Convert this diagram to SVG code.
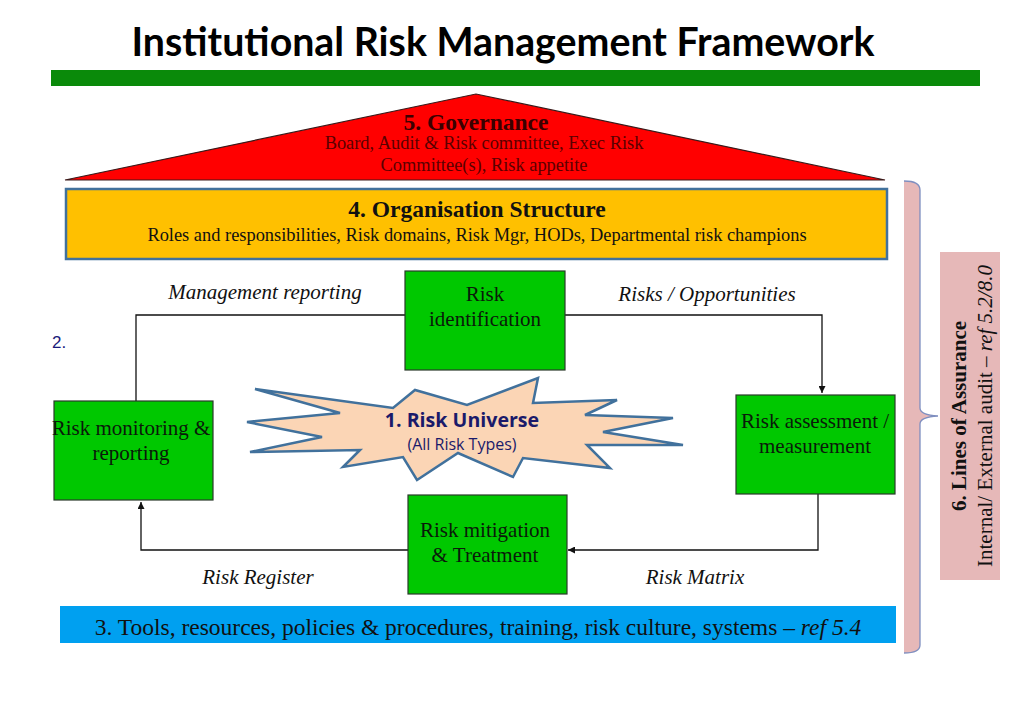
<svg xmlns="http://www.w3.org/2000/svg" width="1024" height="708" viewBox="0 0 1024 708">
<style>
.serif{font-family:"Liberation Serif","Times New Roman",serif}
.box{fill:#00c800;stroke:#2a3a2a;stroke-width:1.2}
.boxt{font-family:"Liberation Serif",serif;font-size:21px;fill:#0a1a0a;text-anchor:middle}
.lbl{font-family:"Liberation Serif",serif;font-size:21px;font-style:italic;fill:#111;text-anchor:middle}
.conn{fill:none;stroke:#111;stroke-width:1.3}
</style>
<defs>
<marker id="arr" viewBox="0 0 10 10" refX="10" refY="5" markerWidth="7" markerHeight="7" orient="auto" markerUnits="userSpaceOnUse"><path d="M0,0 L10,5 L0,10 z" fill="#111"/></marker>
</defs>
<rect width="1024" height="708" fill="#fff"/>
<g id="title">
<text x="503" y="56" font-family="Lato,'Open Sans',sans-serif" font-weight="bold" font-size="39.3" text-anchor="middle" fill="#000">Institutional Risk Management Framework</text>
<rect x="51" y="70" width="929" height="16" fill="#0a8a0a"/>
</g>
<g id="governance">
<polygon points="65,180 476,94 885,180" fill="#ff0000" stroke="#3a1a1a" stroke-width="1.2"/>
<text x="476" y="130" class="serif" font-size="23.5" font-weight="bold" text-anchor="middle" fill="#3a0000">5. Governance</text>
<text x="484" y="149" class="serif" font-size="18.4" text-anchor="middle" fill="#5a0000">Board, Audit &amp; Risk committee, Exec Risk</text>
<text x="484" y="171" class="serif" font-size="18.4" text-anchor="middle" fill="#5a0000">Committee(s), Risk appetite</text>
</g>
<g id="organisation">
<rect x="66" y="189" width="821" height="70" fill="#ffc000" stroke="#41719c" stroke-width="2.5"/>
<text x="477" y="217" class="serif" font-size="23.5" font-weight="bold" text-anchor="middle" fill="#111">4. Organisation Structure</text>
<text x="477" y="241" class="serif" font-size="18.4" text-anchor="middle" fill="#111">Roles and responsibilities, Risk domains, Risk Mgr, HODs, Departmental risk champions</text>
</g>
<g id="connectors">
<polyline class="conn" points="136,401 136,315 405,315"/>
<polyline class="conn" points="565,315 822,315 822,393" marker-end="url(#arr)"/>
<polyline class="conn" points="818,494 818,550 568,550" marker-end="url(#arr)"/>
<polyline class="conn" points="408,550 141,550 141,502" marker-end="url(#arr)"/>
</g>
<g id="labels">
<text x="265" y="299" class="lbl">Management reporting</text>
<text x="707" y="301" class="lbl">Risks / Opportunities</text>
<text x="258" y="584" class="lbl">Risk Register</text>
<text x="695" y="584" class="lbl">Risk Matrix</text>
<text x="52" y="348" font-family="'Liberation Sans',sans-serif" font-size="17" fill="#1a1a7a">2.</text>
</g>
<g id="risk-universe">
<polygon points="255,389 340,413 247,422 322,437 250,452 360,450 343,467 403,457 417,480 458,453 513,477 523,458 610,468 587,445 683,445 603,432 673,418 585,415 617,400 533,403 538,378 467,405 415,390 393,408" fill="#fbd5b5" stroke="#41719c" stroke-width="2.5" stroke-linejoin="miter"/>
<text x="462" y="427" font-family="'Open Sans',sans-serif" font-weight="bold" font-size="19.6" text-anchor="middle" fill="#1a1a6a">1. Risk Universe</text>
<text x="462" y="450" font-family="'Open Sans',sans-serif" font-size="16" text-anchor="middle" fill="#1a1a6a">(All Risk Types)</text>
</g>
<g id="risk-identification">
<rect class="box" x="405" y="271" width="160" height="99"/>
<text x="485" y="301" class="boxt">Risk</text>
<text x="485" y="326" class="boxt">identification</text>
</g>
<g id="risk-monitoring">
<rect class="box" x="54" y="401" width="159" height="99"/>
<text x="131" y="435" class="boxt">Risk monitoring &amp;</text>
<text x="131" y="460" class="boxt">reporting</text>
</g>
<g id="risk-assessment">
<rect class="box" x="736" y="395" width="159" height="99"/>
<text x="815" y="428" class="boxt">Risk assessment /</text>
<text x="815" y="453" class="boxt">measurement</text>
</g>
<g id="risk-mitigation">
<rect class="box" x="408" y="495" width="159" height="99"/>
<text x="485" y="537" class="boxt">Risk mitigation</text>
<text x="485" y="562" class="boxt">&amp; Treatment</text>
</g>
<g id="tools">
<rect x="60" y="606" width="836" height="37" fill="#00a0f0"/>
<text x="478" y="635" class="serif" font-size="23.5" text-anchor="middle" fill="#111">3. Tools, resources, policies &amp; procedures, training, risk culture, systems – <tspan font-style="italic">ref 5.4</tspan></text>
</g>
<g id="lines-of-assurance">
<path d="M904,181 Q920,181 920,190 L920,408 Q920,415 938,416 Q920,417 920,424 L920,645 Q920,653 904,653 Z" fill="#e6b8b8" stroke="none"/>
<path d="M904,181 Q920,181 920,190 L920,408 Q920,415 938,416 Q920,417 920,424 L920,645 Q920,653 904,653" fill="none" stroke="#7f8fc0" stroke-width="1.3"/>
<rect x="940" y="252" width="60" height="328" fill="#e6b8b8"/>
<text transform="translate(966,416) rotate(-90)" class="serif" font-size="21" font-weight="bold" text-anchor="middle" fill="#111">6. Lines of Assurance</text>
<text transform="translate(992,416) rotate(-90)" class="serif" font-size="21" text-anchor="middle" fill="#111">Internal/ External audit – <tspan font-style="italic">ref 5.2/8.0</tspan></text>
</g>
</svg>
